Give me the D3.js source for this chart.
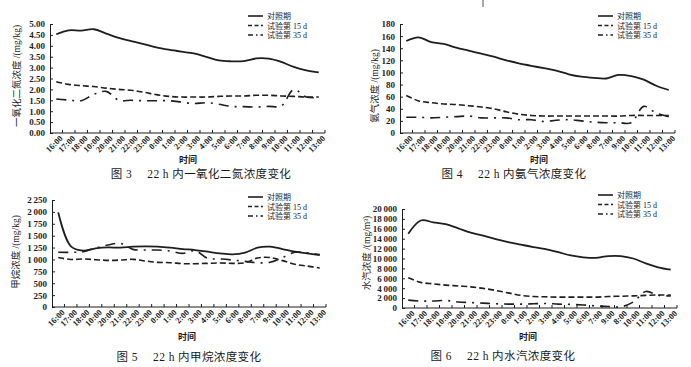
<!DOCTYPE html>
<html>
<head>
<meta charset="utf-8">
<script src="https://cdn.jsdelivr.net/npm/d3@7"></script>
<style>
  body { margin: 0; background: #fff; }
  svg { display: block; }
  text { font-family: "Liberation Serif", "Noto Sans CJK SC", serif; fill: #1a1a1a; }
</style>
</head>
<body>
<svg id="chart" width="691" height="367"></svg>
<script>
// time labels (as printed in the figures, typos included)
const hours3 = ["16:00","17:00","18:00","10:00","20:00","21:00","22:00","23:00","0:00","1:00","2:00","3:00","4:00","5:00","6:00","7:00","8:00","9:00","10:00","11:00","12:00","13:00"];
const hours4 = ["16:00","17:00","18:00","10:00","20:00","21:00","22:00","23:00","0:00","1:00","2:00","3:00","4:00","5:00","6:00","8:00","7:00","9:00","10:00","11:00","12:00","13:00"];
const hours5 = hours4;
const hours6 = ["16:00","17:00","18:00","10:00","20:00","21:00","22:00","23:00","0:00","1:00","2:00","3:00","4:00","5:00","6:00","7:00","9:00","8:00","10:00","11:00","12:00","13:00"];

const seriesNames = ["对照期", "试验第 15 d", "试验第 35 d"];

// fig 3  N2O  (mg/kg)
const n2oControl = [4.53,4.71,4.70,4.76,4.56,4.36,4.22,4.08,3.93,3.82,3.73,3.65,3.49,3.33,3.29,3.30,3.42,3.41,3.26,3.03,2.87,2.78];
const n2oDay15   = [2.35,2.23,2.17,2.13,2.06,2.00,1.96,1.87,1.76,1.68,1.65,1.65,1.65,1.68,1.70,1.70,1.73,1.73,1.70,1.68,1.65,1.65];
const n2oDay35   = [1.56,1.51,1.48,1.77,1.91,1.50,1.50,1.48,1.48,1.48,1.42,1.35,1.39,1.32,1.22,1.21,1.19,1.22,1.24,1.99,1.65,1.62];
const n2oTicks   = [0,0.5,1,1.5,2,2.5,3,3.5,4,4.5,5];

// fig 4  NH3  (mg/kg)
const nh3Control = [152,158,150,147,141,136,131,126,120,115,111,107,103,97,93,91,90,96,94,88,78,71];
const nh3Day15   = [62,53,50,48,47,45,43,40,35,31,29,28,28,28,28,28,28,28,29,29,29,29];
const nh3Day35   = [26,26,25,26,27,28,25,25,25,22,22,19,21,22,20,18,17,17,17,44,33,27];
const nh3Ticks   = [0,20,40,60,80,100,120,140,160,180];

// fig 5  CH4  (mg/kg)
const ch4Control = [1990,1282,1184,1233,1254,1247,1268,1275,1268,1247,1219,1198,1163,1128,1107,1142,1247,1268,1219,1163,1128,1093];
const ch4Day15   = [1040,1000,1009,995,981,988,1002,967,939,932,911,911,918,925,918,930,1030,1040,975,900,860,820];
const ch4Day35   = [1150,1150,1163,1240,1303,1338,1212,1198,1198,1177,1128,1184,1023,1009,988,960,930,940,1040,1150,1140,1105];
const ch4Ticks   = [0,250,500,750,1000,1250,1500,1750,2000,2250];

// fig 6  water vapour  (mg/m3)
const h2oControl = [15000,17680,17320,16950,16100,15240,14630,13900,13290,12800,12320,11890,11280,10610,10240,10120,10490,10490,10000,9020,8230,7740];
const h2oDay15   = [6100,5180,4880,4630,4450,4270,3960,3540,3050,2560,2320,2260,2200,2200,2200,2200,2320,2380,2440,2560,2620,2620];
const h2oDay35   = [1590,1400,1400,1520,1220,1100,980,850,790,790,850,910,790,730,610,430,300,240,1200,3350,2560,2440];
const h2oTicks   = [0,2000,4000,6000,8000,10000,12000,14000,16000,18000,20000];

const svg = d3.select("#chart");
const ink = "#1e1e1e";
const dashes = [null, "6,3", "10,6,2,6"];
const spaced = d3.format(",");
const thin = v => spaced(v).replace(/,/g, "\u2009");

const panels = [
  { hours: hours3, series: [n2oControl, n2oDay15, n2oDay35], ticks: n2oTicks, fmt: d3.format(".2f"),
    x0: 50, x1: 325, yTop: 24, yBot: 133,
    ylabel: "一氧化二氮浓度 /(mg/kg)", yl: [17, 76],
    xl: [188, 163], cap: "图 3\u2003 22 h 内一氧化二氮浓度变化", capPos: [201, 178],
    leg: [248, 16, 9.5] },
  { hours: hours4, series: [nh3Control, nh3Day15, nh3Day35], ticks: nh3Ticks, fmt: d3.format("d"),
    x0: 400, x1: 675, yTop: 24, yBot: 133,
    ylabel: "氨气浓度 /(mg/kg)", yl: [375, 86],
    xl: [539, 163], cap: "图 4\u2003 22 h 内氨气浓度变化", capPos: [514, 178],
    leg: [598, 16, 9.5] },
  { hours: hours5, series: [ch4Control, ch4Day15, ch4Day35], ticks: ch4Ticks, fmt: thin,
    x0: 52, x1: 326, yTop: 200, yBot: 307,
    ylabel: "甲烷浓度 /(mg/kg)", yl: [16, 252],
    xl: [187, 340], cap: "图 5\u2003 22 h 内甲烷浓度变化", capPos: [189, 361],
    leg: [248, 197, 9.5] },
  { hours: hours6, series: [h2oControl, h2oDay15, h2oDay35], ticks: h2oTicks, fmt: thin,
    x0: 402, x1: 677, yTop: 209, yBot: 308,
    ylabel: "水汽浓度 /(mg/m\u00b3)", yl: [367, 253],
    xl: [528, 340], cap: "图 6\u2003 22 h 内水汽浓度变化", capPos: [503, 360],
    leg: [598, 195, 9.5] }
];

panels.forEach(p => drawPanel(p));

function drawPanel(p) {
  const g = svg.append("g");
  const n = p.hours.length;

  const x = d3.scaleBand().domain(d3.range(n)).range([p.x0, p.x1]).padding(0);
  const bw = x.bandwidth();
  const y = d3.scaleLinear().domain([0, d3.max(p.ticks)]).range([p.yBot, p.yTop]);

  // y axis, ticks pointing inward
  const ya = g.append("g")
    .attr("transform", `translate(${p.x0},0)`)
    .call(d3.axisLeft(y).tickValues(p.ticks).tickFormat(p.fmt).tickSizeInner(-3).tickSizeOuter(0).tickPadding(5));
  ya.selectAll("path,line").attr("stroke", ink).attr("stroke-width", 1);
  ya.selectAll("text").attr("font-size", 9).style("fill", ink).attr("font-weight", "bold");

  // x axis: line, ticks at band edges, rotated labels at band centres
  g.append("line")
    .attr("x1", p.x0).attr("x2", p.x1).attr("y1", p.yBot).attr("y2", p.yBot)
    .attr("stroke", ink);
  g.selectAll(".xt").data(d3.range(1, n + 1)).join("line")
    .attr("x1", i => p.x0 + i * bw).attr("x2", i => p.x0 + i * bw)
    .attr("y1", p.yBot).attr("y2", p.yBot - 3)
    .attr("stroke", ink);
  g.selectAll(".xl").data(p.hours).join("text")
    .attr("transform", (d, i) => `translate(${x(i) + bw / 2 + 7},${p.yBot + 6}) rotate(-45)`)
    .attr("text-anchor", "end")
    .attr("font-size", 8.5)
    .attr("font-weight", "bold")
    .text(d => d);

  // lines
  const line = d3.line()
    .x((d, i) => x(i) + bw / 2)
    .y(d => y(d))
    .curve(d3.curveCatmullRom.alpha(0.5));
  p.series.forEach((s, k) => {
    g.append("path")
      .attr("d", line(s))
      .attr("fill", "none")
      .attr("stroke", ink)
      .attr("stroke-width", k === 0 ? 1.8 : 1.6)
      .attr("stroke-dasharray", dashes[k]);
  });

  // legend
  const [lx, ly, lstep] = p.leg;
  seriesNames.forEach((name, k) => {
    const yy = ly + k * lstep;
    g.append("line")
      .attr("x1", lx).attr("x2", lx + 15).attr("y1", yy).attr("y2", yy)
      .attr("stroke", ink).attr("stroke-width", k === 0 ? 1.6 : 1.3)
      .attr("stroke-dasharray", k === 0 ? null : (k === 1 ? "4,2.5" : "5,3,1.5,3"));
    g.append("text")
      .attr("x", lx + 19).attr("y", yy + 3)
      .attr("font-size", 8)
      .text(name);
  });

  // axis titles and caption
  g.append("text")
    .attr("transform", `translate(${p.yl[0]},${p.yl[1]}) rotate(-90)`)
    .attr("text-anchor", "middle")
    .attr("dy", "0.35em")
    .attr("font-size", 9.5)
    .text(p.ylabel);
  g.append("text")
    .attr("x", p.xl[0]).attr("y", p.xl[1])
    .attr("text-anchor", "middle")
    .attr("font-size", 9)
    .attr("font-weight", "bold")
    .text("时间");
  g.append("text")
    .attr("x", p.capPos[0]).attr("y", p.capPos[1])
    .attr("text-anchor", "middle")
    .attr("font-size", 11.5)
    .attr("letter-spacing", 0.4)
    .text(p.cap);
}

// small mark at the top edge of the scan
svg.append("line").attr("x1", 483).attr("x2", 483).attr("y1", 0).attr("y2", 7)
  .attr("stroke", "#555").attr("stroke-width", 1);
</script>
</body>
</html>
